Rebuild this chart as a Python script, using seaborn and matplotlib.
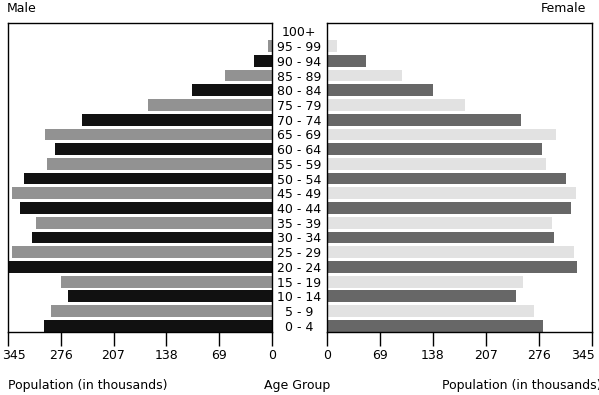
import pandas as pd
import matplotlib
matplotlib.use("Agg")
import matplotlib.pyplot as plt
import matplotlib.transforms as mtransforms
import seaborn as sns

# age groups from youngest to oldest
age_groups = ["0 - 4", "5 - 9", "10 - 14", "15 - 19", "20 - 24", "25 - 29",
              "30 - 34", "35 - 39", "40 - 44", "45 - 49", "50 - 54", "55 - 59",
              "60 - 64", "65 - 69", "70 - 74", "75 - 79", "80 - 84", "85 - 89",
              "90 - 94", "95 - 99", "100+"]
male = [298, 289, 266, 276, 345, 339, 313, 308, 329, 339, 324,
        294, 283, 296, 248, 162, 105, 61, 24, 6, 1]
female = [281, 270, 247, 255, 326, 322, 296, 293, 318, 324, 311,
          286, 280, 299, 253, 180, 139, 98, 51, 13, 1]
shade = ["dark" if i % 2 == 0 else "light" for i in range(len(age_groups))]
x_ticks = [0, 69, 138, 207, 276, 345]

df = pd.DataFrame({"age": age_groups, "male": male, "female": female, "shade": shade})
order = age_groups[::-1]

male_colors = {"dark": "#111111", "light": "#929292"}
female_colors = {"dark": "#676767", "light": "#e2e2e2"}

plt.rcParams["font.family"] = ["DejaVu Sans"]
plt.rcParams["font.size"] = 9

fig = plt.figure(figsize=(5.99, 3.95), dpi=100)
ax_m = fig.add_axes([0.01285, 0.1587, 0.4417, 0.7838])
ax_f = fig.add_axes([0.5454, 0.1587, 0.4424, 0.7838])

sns.barplot(data=df, x="male", y="age", hue="shade", order=order, palette=male_colors,
            dodge=False, legend=False, width=0.8, linewidth=0, ax=ax_m)
sns.barplot(data=df, x="female", y="age", hue="shade", order=order, palette=female_colors,
            dodge=False, legend=False, width=0.8, linewidth=0, ax=ax_f)

for ax in (ax_m, ax_f):
    ax.set_ylim(20.44, -0.585)
    ax.set_xticks(x_ticks)
    ax.set_xticklabels([str(t) for t in x_ticks])
    ax.tick_params(axis="x", direction="out", length=10, width=1, pad=2, labelsize=9)
    ax.set_xlabel("")
    ax.set_ylabel("")
    for s in ax.spines.values():
        s.set_color("black")
        s.set_linewidth(1)

ax_m.set_xlim(345, 0)
ax_f.set_xlim(0, 345)

# keep the outer "345" labels inside the figure, as in the original
lbl = ax_m.get_xticklabels()[-1]
lbl.set_transform(lbl.get_transform() + mtransforms.ScaledTranslation(6 / 100, 0, fig.dpi_scale_trans))
lbl = ax_f.get_xticklabels()[-1]
lbl.set_transform(lbl.get_transform() + mtransforms.ScaledTranslation(-8.7 / 100, 0, fig.dpi_scale_trans))

# age labels in the gap between the two panels
ax_m.set_yticks(range(len(order)))
ax_m.set_yticklabels(order)
ax_m.tick_params(axis="y", left=False, right=False, labelleft=False, labelright=True,
                 length=0, pad=19.2, labelsize=9)
for t in ax_m.get_yticklabels():
    t.set_horizontalalignment("center")
ax_f.set_yticks([])

fig.text(7 / 599, 1 - 8.3 / 395, "Male", ha="left", va="center", fontsize=9)
fig.text(586.5 / 599, 1 - 8.3 / 395, "Female", ha="right", va="center", fontsize=9)
fig.text(8 / 599, 1 - 386 / 395, "Population (in thousands)", ha="left", va="center", fontsize=9)
fig.text(297.5 / 599, 1 - 385 / 395, "Age Group", ha="center", va="center", fontsize=9)
fig.text(442.3 / 599, 1 - 386 / 395, "Population (in thousands)", ha="left", va="center", fontsize=9)

fig.savefig("out.png", dpi=100)
